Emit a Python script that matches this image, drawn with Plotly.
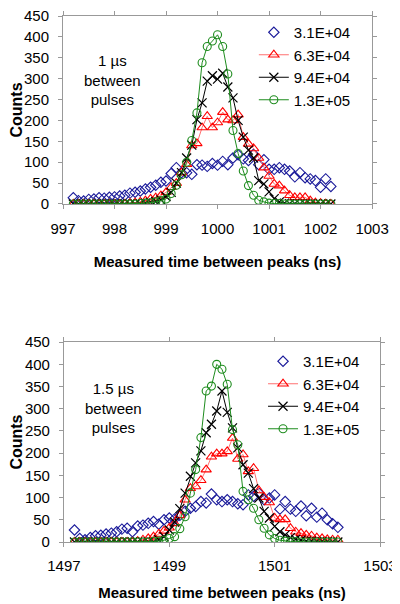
import plotly.graph_objects as go

# x grids (ns)
x_top = [round(997.2 + 0.1 * i, 1) for i in range(51)]
x_bot = [round(1497.2 + 0.1 * i, 1) for i in range(51)]

series_names = ["3.1E+04", "6.3E+04", "9.4E+04", "1.3E+05"]

# ---- top panel: 1 us between pulses ----
top_31 = [15, 8, 7, 11, 12, 15, 14, 16, 17, 19, 21, 26, 28, 31, 36, 40, 45, 52, 55, 73,
          87, 75, 75, 71, 94, 93, 90, 97, 93, 102, 94, 110, 118, 108, 104, 119, 94, 106, 83, 83,
          87, 83, 79, 65, 75, 63, 60, 56, 40, 60, 42]
top_63 = [0, 0, 0, 0, 0, 0, 0, 0, 0, 0, 0, 2, 3, 5, 8, 12, 15, 20, 28, 40,
          50, 75, 95, 140, 145, 183, 210, 183, 195, 220, 202, 200, 214, 160, 144, 133, 110, 87, 67, 48,
          44, 32, 21, 16, 16, 16, 8, 3, 2, 1, 0]
top_94 = [0, 0, 0, 0, 0, 0, 0, 0, 0, 0, 0, 0, 0, 0, 2, 4, 6, 10, 18, 28,
          50, 75, 110, 141, 202, 242, 294, 307, 299, 313, 280, 254, 200, 160, 129, 110, 56, 48, 29, 13,
          5, 2, 1, 1, 0, 0, 0, 0, 0, 0, 0]
top_13 = [0, 0, 0, 0, 0, 0, 0, 0, 0, 0, 0, 0, 0, 1, 2, 3, 5, 8, 12, 25,
          45, 70, 100, 152, 218, 338, 377, 390, 405, 377, 311, 176, 121, 79, 44, 21, 9, 5, 2, 1,
          1, 0, 0, 0, 0, 0, 0, 0, 0, 0, 0]

# ---- bottom panel: 1.5 us between pulses ----
bot_31 = [27, 8, 5, 10, 14, 15, 18, 20, 23, 29, 31, 23, 36, 38, 42, 46, 40, 50, 54, 52,
          60, 69, 76, 80, 91, 88, 108, 95, 91, 95, 91, 86, 84, 106, 103, 110, 95, 99, 106, 74,
          91, 74, 69, 81, 59, 76, 56, 65, 50, 41, 33]
bot_63 = [0, 0, 0, 0, 0, 0, 0, 0, 0, 0, 0, 0, 2, 5, 8, 12, 18, 25, 32, 42,
          60, 95, 121, 125, 139, 163, 192, 199, 199, 204, 234, 187, 197, 159, 166, 116, 101, 89, 54, 51,
          51, 31, 23, 20, 16, 14, 10, 8, 6, 5, 5]
bot_94 = [0, 0, 0, 0, 0, 0, 0, 0, 0, 0, 0, 0, 0, 0, 0, 0, 5, 12, 27, 45,
          75, 110, 148, 178, 205, 246, 265, 295, 340, 292, 257, 212, 174, 155, 120, 99, 69, 54, 35, 23,
          16, 10, 6, 4, 2, 2, 1, 1, 1, 0, 0]
bot_13 = [0, 0, 0, 0, 0, 0, 0, 0, 0, 0, 0, 0, 0, 0, 0, 1, 2, 4, 8, 12,
          30, 57, 110, 163, 235, 340, 351, 400, 389, 355, 253, 219, 114, 95, 76, 50, 31, 16, 8, 4,
          2, 1, 1, 0, 0, 0, 0, 0, 0, 0, 0]

y_ticks = list(range(0, 451, 50))
top_xticks = [997, 998, 999, 1000, 1001, 1002, 1003]
bot_xticks = [1497, 1499, 1501, 1503]

FONT = "Liberation Sans, Arial, sans-serif"

styles = [
    dict(mode="markers", marker=dict(symbol="diamond-open", size=8, color="#1a1a9a", line=dict(width=1.1))),
    dict(mode="lines+markers", line=dict(color="#ff7070", width=1),
         marker=dict(symbol="triangle-up-open", size=9, color="#ff0000", line=dict(width=1.1))),
    dict(mode="lines+markers", line=dict(color="#000000", width=1),
         marker=dict(symbol="x-thin-open", size=9, color="#000000", line=dict(width=1.2))),
    dict(mode="lines+markers", line=dict(color="#1e8c1e", width=1),
         marker=dict(symbol="circle-open", size=8, color="#1e8c1e", line=dict(width=1.1))),
]

fig = go.Figure()
for name, ys, st in zip(series_names, [top_31, top_63, top_94, top_13], styles):
    fig.add_trace(go.Scatter(x=x_top, y=ys, name=name, xaxis="x", yaxis="y", legend="legend", **st))
for name, ys, st in zip(series_names, [bot_31, bot_63, bot_94, bot_13], styles):
    fig.add_trace(go.Scatter(x=x_bot, y=ys, name=name, xaxis="x2", yaxis="y2", legend="legend2", **st))

axis_common = dict(showgrid=False, zeroline=False, showline=True, linecolor="#999999", linewidth=1,
                   ticks="outside", ticklen=4, tickcolor="#999999", mirror="ticks", automargin=False,
                   ticklabeloverflow="allow",
                   tickfont=dict(size=15, color="#000000", family=FONT))

# the page body adds an 8px offset, so the figure is 392x596
fig.update_layout(
    width=392, height=596,
    margin=dict(l=55, r=20, t=8, b=62),
    paper_bgcolor="white", plot_bgcolor="white",
    font=dict(family=FONT, color="#000000", size=15),
    xaxis=dict(domain=[0.0, 0.975], anchor="y", range=[997, 1003], tickvals=top_xticks,
               ticklabelstandoff=7,
               title=dict(text="<b>Measured time between peaks (ns)</b>", font=dict(size=15), standoff=20),
               **axis_common),
    yaxis=dict(domain=[0.6426, 1.0], anchor="x", range=[0, 450], tickvals=y_ticks,
               ticklabelstandoff=6,
               title=dict(text="<b>Counts</b>", font=dict(size=16), standoff=1),
               **axis_common),
    xaxis2=dict(domain=[0.003, 1.0], anchor="y2", range=[1497, 1503], tickvals=bot_xticks,
                ticklabelstandoff=6,
                title=dict(text="<b>Measured time between peaks (ns)</b>", font=dict(size=15), standoff=14),
                **axis_common),
    yaxis2=dict(domain=[0.0, 0.380], anchor="x2", range=[0, 450], tickvals=y_ticks,
                ticklabelstandoff=6,
                title=dict(text="<b>Counts</b>", font=dict(size=16), standoff=1),
                **axis_common),
    legend=dict(x=0.602, y=1.0, xanchor="left", yanchor="top", bgcolor="rgba(0,0,0,0)",
                font=dict(size=15), tracegroupgap=0, itemwidth=30),
    legend2=dict(x=0.631, y=0.3745, xanchor="left", yanchor="top", bgcolor="rgba(0,0,0,0)",
                 font=dict(size=15), tracegroupgap=0, itemwidth=30),
    annotations=[
        dict(text="1 µs<br>between<br>pulses", xref="paper", yref="paper", x=0.155, y=0.879,
             xanchor="center", yanchor="middle",
             showarrow=False, font=dict(size=15), align="center"),
        dict(text="1.5 µs<br>between<br>pulses", xref="paper", yref="paper", x=0.158, y=0.255,
             xanchor="center", yanchor="middle",
             showarrow=False, font=dict(size=15), align="center"),
    ],
)

fig.write_html("out.html")
